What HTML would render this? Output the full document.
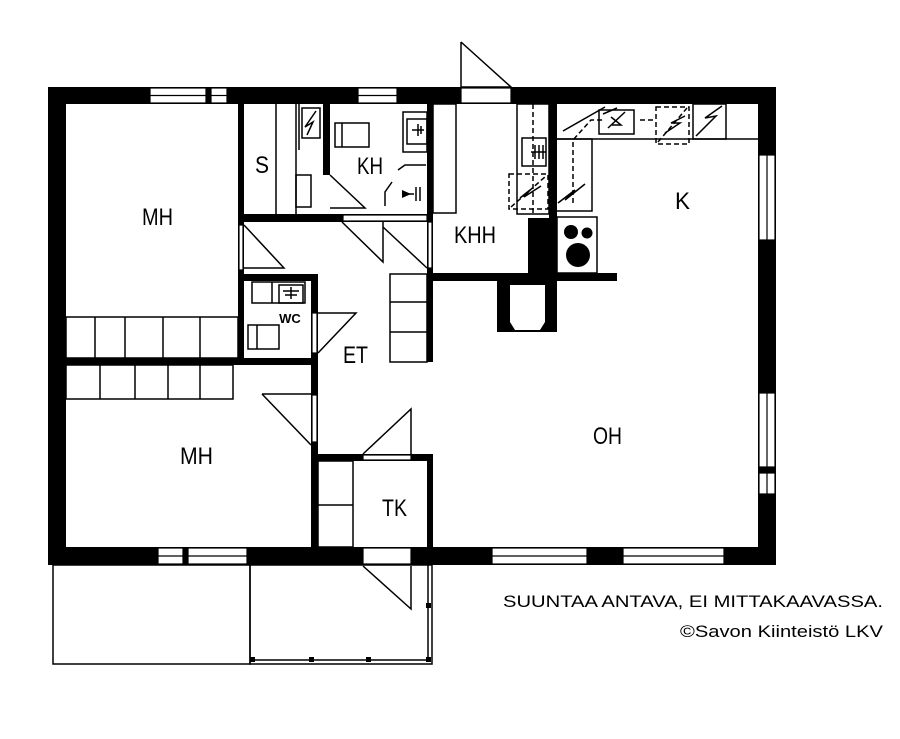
<!DOCTYPE html>
<html><head><meta charset="utf-8"><style>html,body{margin:0;padding:0;background:#fff}svg{display:block}</style></head>
<body>
<svg width="900" height="739" viewBox="0 0 900 739" xmlns="http://www.w3.org/2000/svg" font-family="Liberation Sans, sans-serif">
<rect width="900" height="739" fill="#fff"/>
<g fill="#000">
<rect x="48" y="87" width="728" height="17"/>
<rect x="48" y="87" width="18" height="478"/>
<rect x="758" y="87" width="18" height="478"/>
<rect x="48" y="547" width="728" height="18"/>
<rect x="238" y="104" width="6" height="261"/>
<rect x="238" y="214" width="195" height="8"/>
<rect x="323" y="104" width="7" height="71"/>
<rect x="427" y="104" width="6" height="258"/>
<rect x="433" y="273" width="184" height="8"/>
<rect x="528" y="218" width="29" height="63"/>
<rect x="549" y="104" width="8" height="114"/>
<rect x="497" y="281" width="60" height="51"/>
<rect x="238" y="274" width="80" height="7"/>
<rect x="311" y="274" width="7" height="273"/>
<rect x="66" y="358" width="252" height="7"/>
<rect x="311" y="454" width="122" height="7"/>
<rect x="427" y="454" width="6" height="93"/>
</g>
<polygon points="510,285 545,285 545,322 540,330 515,330 510,322" fill="#fff"/>
<g fill="#fff" stroke="#000" stroke-width="1.2">
<rect x="150" y="88" width="56" height="15"/><line x1="150" y1="95.5" x2="206" y2="95.5"/>
<rect x="211" y="88" width="16" height="15"/><line x1="211" y1="95.5" x2="227" y2="95.5"/>
<rect x="358" y="88" width="39" height="15"/><line x1="358" y1="95.5" x2="397" y2="95.5"/>
<rect x="461" y="88" width="50" height="15"/>
<rect x="759" y="155" width="16" height="85"/><line x1="767" y1="155" x2="767" y2="240"/>
<rect x="759" y="393" width="16" height="74"/><line x1="767" y1="393" x2="767" y2="467"/>
<rect x="759" y="473" width="16" height="21"/><line x1="767" y1="473" x2="767" y2="494"/>
<rect x="492" y="548" width="95" height="16"/><line x1="492" y1="556" x2="587" y2="556"/>
<rect x="623" y="548" width="101" height="16"/><line x1="623" y1="556" x2="724" y2="556"/>
<rect x="158" y="548" width="25" height="16"/><line x1="158" y1="556" x2="183" y2="556"/>
<rect x="188" y="548" width="59" height="16"/><line x1="188" y1="556" x2="247" y2="556"/>
<rect x="363" y="548" width="48" height="16"/>
<rect x="239" y="225" width="4" height="45"/>
<rect x="343" y="215" width="84" height="6"/>
<rect x="428" y="222" width="4" height="46"/>
<rect x="312" y="313" width="5" height="40"/>
<rect x="312" y="395" width="5" height="47"/>
<rect x="363" y="455" width="48" height="5"/>
</g>
<g fill="none" stroke="#000" stroke-width="1.5">
<polyline points="461,42 461,87 511,87 461,42"/>
<polyline points="363,566 411,609 411,566"/>
<polyline points="244,225 284,268 244,268"/>
<polyline points="342,222 383,262 383,222"/>
<polyline points="383,227 427,268"/>
<polyline points="330,175 365,208 330,208"/>
<polyline points="318,353 356,313 318,313"/>
<polyline points="262,394 311,394"/><line x1="262" y1="394" x2="311" y2="445"/>
<polyline points="363,454 411,409 411,454"/>
<path d="M398 170 L405 165 L426 165"/><path d="M385 206 L385 192 L392 182"/>
<rect x="66" y="317" width="172" height="41"/>
<line x1="95" y1="317" x2="95" y2="358"/><line x1="125" y1="317" x2="125" y2="358"/><line x1="163" y1="317" x2="163" y2="358"/><line x1="200" y1="317" x2="200" y2="358"/>
<rect x="66" y="365" width="167" height="34"/>
<line x1="100" y1="365" x2="100" y2="399"/><line x1="135" y1="365" x2="135" y2="399"/><line x1="168" y1="365" x2="168" y2="399"/><line x1="200" y1="365" x2="200" y2="399"/>
<rect x="390" y="274" width="37" height="88"/>
<line x1="390" y1="302" x2="427" y2="302"/><line x1="390" y1="332" x2="427" y2="332"/>
<rect x="433" y="104" width="23" height="109"/>
<rect x="517" y="104" width="32" height="110"/>
<rect x="318" y="461" width="35" height="86"/><line x1="318" y1="505" x2="353" y2="505"/>
<line x1="276" y1="104" x2="276" y2="214"/><line x1="296" y1="104" x2="296" y2="214"/><line x1="299" y1="104" x2="299" y2="150"/>
<rect x="302" y="108" width="18" height="30"/><path d="M316 111 L305 127 L313 122 L307 135"/>
<rect x="296" y="175" width="15" height="32"/>
<rect x="335" y="123" width="34" height="24"/><line x1="342" y1="123" x2="342" y2="147"/>
<rect x="403" y="112" width="24" height="40"/><rect x="407" y="119" width="20" height="25"/>
<path d="M412 130 L424 130 M418 124 L418 136 M421 126 L421 134"/>
<path d="M402 194 L414 194 M416 187 L416 201 M420 187 L420 201"/>
<rect x="252" y="282" width="53" height="21"/><line x1="272" y1="282" x2="272" y2="303"/>
<rect x="279" y="285" width="24" height="18"/><path d="M283 291 L299 291 M291 287 L291 299 M285 295 L297 295"/>
<rect x="248" y="325" width="31" height="24"/><line x1="257" y1="325" x2="257" y2="349"/>
<rect x="522" y="138" width="24" height="28"/><path d="M531 152 L546 152 M535 145 L535 159 M539 145 L539 159 M543 145 L543 159"/>
<polyline points="557,139 592,139 592,211 557,211"/>
<line x1="557" y1="139" x2="758" y2="139"/>
<rect x="693" y="104" width="33" height="35"/>
<path d="M722 106 L705 118 L716 116 L696 136"/>
<rect x="557" y="217" width="40" height="56"/>
<path d="M558 203 L575 190 L565 200 L585 184"/>
<path d="M563 131 L605 107 M603 114 L617 108"/>
<rect x="53" y="565" width="197" height="99"/>
<rect x="250" y="565" width="182" height="99"/>
<line x1="428" y1="565" x2="428" y2="660"/><line x1="250" y1="660" x2="428" y2="660"/>
</g>
<g fill="none" stroke="#000" stroke-width="1.5" stroke-dasharray="5,3">
<line x1="533" y1="104" x2="533" y2="214"/>
<rect x="509" y="174" width="39" height="35"/>
<polyline points="573,203 573,140 591,120 603,120"/>
<line x1="640" y1="120" x2="656" y2="120"/>
<rect x="656" y="107" width="33" height="37"/>
<path d="M511 207 L546 176"/><path d="M658 142 L687 108"/>
</g>
<g fill="none" stroke="#000" stroke-width="1.5">
<rect x="599" y="110" width="35" height="24"/>
<path d="M608 128 L625 112 M611 117 L621 125 L612 125"/>
<path d="M520 198 L530 190 L524 197 L541 186"/>
<path d="M665 133 L680 123 L671 123 L685 116"/>
</g>
<g fill="#000">
<circle cx="571" cy="232" r="7"/><circle cx="587" cy="233" r="5.5"/><circle cx="578" cy="255" r="12"/>
<polygon points="402,190 411,194 402,198"/>
<rect x="309" y="657" width="5" height="5"/><rect x="366" y="657" width="5" height="5"/><rect x="426" y="603" width="5" height="5"/><rect x="426" y="657" width="5" height="5"/><rect x="250" y="657" width="5" height="5"/>
</g>
<g font-size="24" fill="#000">
<text x="142" y="225" textLength="31" lengthAdjust="spacingAndGlyphs">MH</text>
<text x="255" y="173" textLength="14" lengthAdjust="spacingAndGlyphs">S</text>
<text x="357" y="174" textLength="26" lengthAdjust="spacingAndGlyphs">KH</text>
<text x="454" y="243" textLength="42" lengthAdjust="spacingAndGlyphs">KHH</text>
<text x="675" y="209" textLength="15" lengthAdjust="spacingAndGlyphs">K</text>
<text x="343" y="363" textLength="25" lengthAdjust="spacingAndGlyphs">ET</text>
<text x="180" y="464" textLength="33" lengthAdjust="spacingAndGlyphs">MH</text>
<text x="593" y="444" textLength="29" lengthAdjust="spacingAndGlyphs">OH</text>
<text x="382" y="516" textLength="25" lengthAdjust="spacingAndGlyphs">TK</text>
</g>
<text x="290" y="323" font-size="13" font-weight="bold" text-anchor="middle">WC</text>
<g font-size="17" fill="#000">
<text x="503" y="607" textLength="380" lengthAdjust="spacingAndGlyphs">SUUNTAA ANTAVA, EI MITTAKAAVASSA.</text>
<text x="680" y="637" textLength="203" lengthAdjust="spacingAndGlyphs">©Savon Kiinteistö LKV</text>
</g>
</svg>
</body></html>
